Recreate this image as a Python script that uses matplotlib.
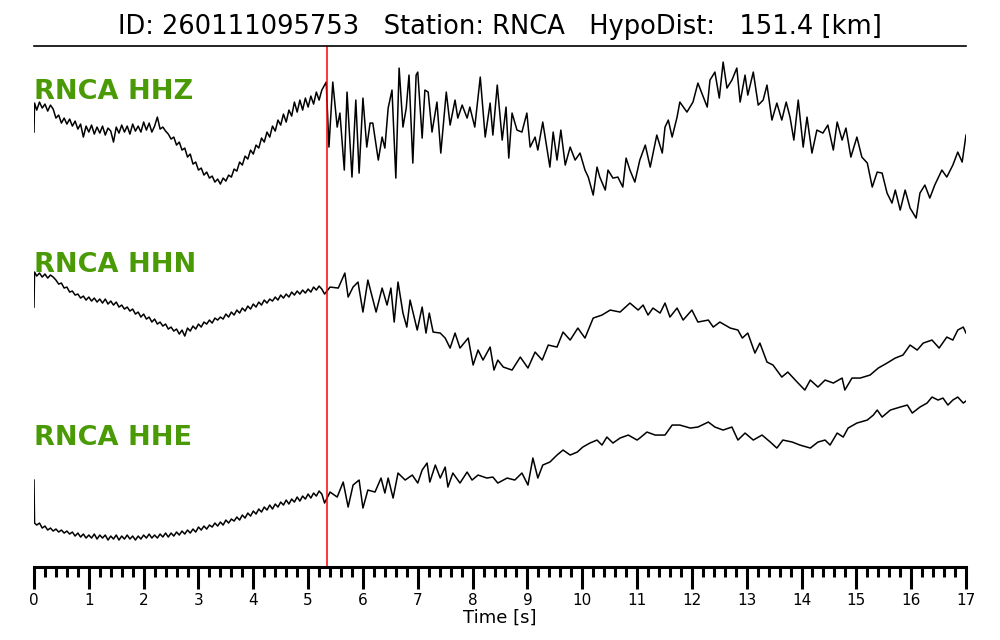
import numpy as np
import matplotlib
matplotlib.use("Agg")
import matplotlib.pyplot as plt
from matplotlib.ticker import MultipleLocator

# event / station info
event_id = "260111095753"
station = "RNCA"
hypo_dist = 151.4
pick_time = 5.35  # P pick [s]
channels = ["HHZ", "HHN", "HHE"]

# noise window before the pick, read every 0.05 s
pre_time = [0.00, 0.01, 0.05, 0.10, 0.15, 0.20, 0.25, 0.30, 0.35, 0.40, 0.45, 0.50, 0.55, 0.60,
            0.65, 0.70, 0.75, 0.80, 0.85, 0.90, 0.95, 1.00, 1.05, 1.10, 1.15, 1.20, 1.25, 1.30,
            1.35, 1.40, 1.45, 1.50, 1.55, 1.60, 1.65, 1.70, 1.75, 1.80, 1.85, 1.90, 1.95, 2.00,
            2.05, 2.10, 2.15, 2.20, 2.25, 2.30, 2.35, 2.40, 2.45, 2.50, 2.55, 2.60, 2.65, 2.70,
            2.75, 2.80, 2.85, 2.90, 2.95, 3.00, 3.05, 3.10, 3.15, 3.20, 3.25, 3.30, 3.35, 3.40,
            3.45, 3.50, 3.55, 3.60, 3.65, 3.70, 3.75, 3.80, 3.85, 3.90, 3.95, 4.00, 4.05, 4.10,
            4.15, 4.20, 4.25, 4.30, 4.35, 4.40, 4.45, 4.50, 4.55, 4.60, 4.65, 4.70, 4.75, 4.80,
            4.85, 4.90, 4.95, 5.00, 5.05, 5.10, 5.15, 5.20, 5.25, 5.30]

hhz_pre = [8, 37, 30, 38, 32, 36, 29, 35, 31, 22, 25, 17, 22, 16,
           21, 14, 19, 11, 16, 3, 14, 8, 15, 6, 13, 7, 14, 5,
           12, 9, -2, 13, 7, 15, 8, 14, 6, 16, 9, 14, 8, 18,
           10, 17, 8, 14, 23, 11, 13, 9, 6, 1, 3, -5, -2, -10,
           -8, -17, -14, -24, -22, -30, -28, -35, -32, -38, -36, -42, -39, -44,
           -38, -41, -35, -37, -29, -31, -22, -25, -16, -19, -10, -14, -5, -8,
           2, -2, 8, 3, 14, 9, 20, 15, 26, 18, 30, 24, 38, 28,
           40, 30, 42, 33, 44, 36, 48, 40, 50, 55]
hhn_pre = [23, 58, 54, 57, 53, 56, 52, 55, 53, 50, 46, 47, 42, 43,
           38, 39, 35, 36, 32, 34, 30, 33, 29, 32, 28, 31, 27, 31,
           26, 29, 25, 28, 23, 25, 21, 23, 19, 21, 16, 18, 13, 16,
           11, 13, 8, 11, 6, 8, 4, 6, 1, 3, -1, 1, -4, 0,
           -6, 2, -1, 4, 1, 6, 3, 8, 6, 10, 7, 12, 10, 13,
           11, 16, 13, 18, 15, 20, 17, 22, 19, 24, 21, 26, 23, 28,
           25, 30, 27, 31, 29, 33, 30, 35, 32, 36, 33, 38, 35, 39,
           36, 40, 37, 41, 38, 43, 40, 44, 41, 36]
hhe_pre = [-10, -53, -55, -53, -58, -56, -60, -58, -61, -59, -62, -60, -63, -61,
           -64, -62, -66, -63, -67, -64, -68, -65, -68, -64, -69, -65, -68, -65,
           -70, -66, -69, -65, -70, -66, -69, -65, -69, -66, -70, -66, -69, -65,
           -68, -64, -68, -65, -68, -64, -67, -63, -67, -63, -66, -62, -65, -61,
           -64, -60, -63, -59, -62, -57, -60, -56, -59, -55, -57, -53, -56, -52,
           -55, -50, -53, -49, -51, -47, -50, -45, -48, -43, -46, -41, -44, -39,
           -42, -37, -40, -35, -39, -34, -37, -32, -35, -30, -34, -29, -32, -27,
           -31, -26, -29, -24, -28, -23, -26, -21, -24, -33]

# signal window after the pick (time [s], amplitude [counts, relative])
hhz_time = [5.33, 5.38, 5.45, 5.53, 5.58, 5.66, 5.71, 5.80, 5.87, 5.93, 6.00, 6.07, 6.13, 6.18,
            6.28, 6.35, 6.40, 6.46, 6.53, 6.60, 6.66, 6.73, 6.79, 6.84, 6.91, 6.97, 7.00, 7.08,
            7.13, 7.19, 7.26, 7.35, 7.42, 7.52, 7.59, 7.68, 7.73, 7.81, 7.90, 7.95, 8.04, 8.14,
            8.23, 8.32, 8.37, 8.45, 8.54, 8.61, 8.66, 8.72, 8.81, 8.90, 8.99, 9.05, 9.14, 9.19,
            9.28, 9.41, 9.47, 9.54, 9.61, 9.69, 9.78, 9.87, 9.96, 10.05, 10.11, 10.20, 10.27,
            10.32, 10.42, 10.47, 10.56, 10.65, 10.74, 10.80, 10.87, 10.96, 11.05, 11.15, 11.24,
            11.36, 11.46, 11.51, 11.57, 11.64, 11.73, 11.78, 11.91, 12.02, 12.11, 12.28, 12.33,
            12.42, 12.50, 12.57, 12.64, 12.73, 12.82, 12.88, 12.97, 13.02, 13.12, 13.21, 13.30,
            13.37, 13.46, 13.55, 13.64, 13.72, 13.79, 13.86, 13.94, 14.03, 14.10, 14.19, 14.28,
            14.39, 14.48, 14.58, 14.65, 14.74, 14.81, 14.90, 15.01, 15.10, 15.20, 15.29, 15.38,
            15.47, 15.56, 15.65, 15.71, 15.80, 15.89, 15.98, 16.09, 16.16, 16.25, 16.34, 16.43,
            16.56, 16.65, 16.76, 16.85, 16.93, 17.00]
hhz_amp = [58, -7, 58, 13, 27, -30, 48, -37, 40, -33, 42, -7, 17, 17,
           -20, 3, -8, 32, 50, -38, 72, 13, 32, 65, -23, 65, 68, 2,
           50, 48, 8, 38, -13, 48, 15, 40, 22, 35, 22, 33, 13, 63,
           3, 37, 5, 55, 0, 33, -18, 27, 10, 8, 27, -7, 3, -10,
           18, -27, 8, -20, 10, -25, -7, -20, -13, -30, -37, -55, -27,
           -37, -50, -30, -38, -37, -47, -18, -30, -42, -20, -5, -27,
           5, -13, 13, 20, 3, 23, 38, 28, 38, 57, 33, 60,
           68, 42, 78, 52, 60, 72, 38, 65, 45, 68, 35, 40,
           55, 20, 37, 20, 38, 23, 0, 40, -7, 23, -13, 10,
           7, 15, -10, 18, 0, 12, -17, 3, -17, -23, -47, -32,
           -33, -53, -63, -50, -70, -50, -68, -78, -53, -45, -58, -45,
           -30, -37, -25, -12, -22, 5]

hhn_time = [5.40, 5.55, 5.67, 5.73, 5.82, 5.91, 6.00, 6.09, 6.24, 6.35, 6.44, 6.51, 6.57, 6.64,
            6.73, 6.80, 6.86, 6.99, 7.08, 7.15, 7.21, 7.28, 7.41, 7.50, 7.59, 7.68, 7.77, 7.92,
            8.01, 8.10, 8.19, 8.32, 8.39, 8.46, 8.56, 8.72, 8.87, 9.01, 9.14, 9.27, 9.38, 9.54,
            9.65, 9.78, 9.92, 10.05, 10.20, 10.36, 10.51, 10.69, 10.87, 11.02, 11.11, 11.20,
            11.29, 11.42, 11.51, 11.60, 11.73, 11.84, 12.00, 12.11, 12.30, 12.39, 12.51, 12.70,
            12.84, 12.92, 13.02, 13.15, 13.24, 13.37, 13.48, 13.64, 13.75, 13.92, 14.06, 14.16,
            14.30, 14.43, 14.58, 14.74, 14.79, 14.92, 15.07, 15.25, 15.40, 15.56, 15.71, 15.85,
            15.98, 16.11, 16.22, 16.38, 16.51, 16.65, 16.76, 16.85, 16.95, 17.00]
hhn_amp = [43, 42, 57, 33, 43, 48, 18, 50, 18, 42, 25, 42, 8, 48,
           17, 3, 30, 0, 23, -3, 17, -2, -3, -8, -18, -3, -18, -8,
           -35, -20, -30, -17, -40, -30, -37, -40, -27, -38, -22, -30, -15, -17,
           -2, -10, 2, -8, 12, 15, 20, 18, 27, 20, 25, 15,
           22, 17, 27, 13, 22, 10, 20, 8, 10, 3, 8, 2,
           0, -8, -3, -23, -13, -32, -35, -47, -42, -52, -60, -50,
           -57, -50, -53, -48, -60, -48, -48, -45, -38, -33, -28, -25,
           -15, -20, -13, -10, -18, -7, -10, 0, 3, -3]

hhe_time = [5.40, 5.53, 5.64, 5.73, 5.82, 5.93, 6.00, 6.09, 6.22, 6.33, 6.40, 6.46, 6.55, 6.64,
            6.77, 6.90, 7.00, 7.08, 7.17, 7.22, 7.32, 7.41, 7.50, 7.55, 7.64, 7.77, 7.90, 7.99,
            8.10, 8.26, 8.37, 8.46, 8.63, 8.77, 8.90, 9.01, 9.10, 9.19, 9.28, 9.41, 9.54, 9.65,
            9.78, 9.91, 10.01, 10.14, 10.27, 10.36, 10.45, 10.56, 10.69, 10.84, 11.00, 11.05,
            11.18, 11.33, 11.51, 11.64, 11.78, 11.97, 12.11, 12.30, 12.42, 12.57, 12.73, 12.84,
            12.97, 13.12, 13.28, 13.43, 13.55, 13.66, 13.83, 13.97, 14.16, 14.30, 14.43, 14.52,
            14.65, 14.76, 14.85, 15.01, 15.20, 15.31, 15.38, 15.47, 15.62, 15.80, 15.93, 16.02,
            16.16, 16.29, 16.38, 16.49, 16.58, 16.67, 16.76, 16.85, 16.95, 17.00]
hhe_amp = [-22, -27, -12, -37, -15, -10, -38, -20, -22, -8, -23, -8, -28, -3,
           -10, -5, -13, 0, 7, -12, 5, -8, 3, -17, -3, -13, -2, -10,
           -5, -8, -7, -13, -8, -10, -3, -15, 12, -8, 5, 8, 15, 20,
           15, 18, 23, 27, 30, 25, 33, 27, 32, 35, 30, 32,
           38, 35, 35, 45, 45, 42, 43, 48, 43, 40, 43, 30,
           37, 30, 35, 28, 22, 30, 28, 25, 22, 28, 30, 25,
           37, 33, 42, 47, 50, 55, 60, 53, 60, 63, 65, 57,
           63, 67, 73, 70, 72, 65, 70, 73, 67, 69]

traces = [
    (pre_time + hhz_time, hhz_pre + hhz_amp),
    (pre_time + hhn_time, hhn_pre + hhn_amp),
    (pre_time + hhe_time, hhe_pre + hhe_amp),
]

# vertical layout of the stacked traces (axis units)
baselines = [427, 237, 97]
label_y = [475, 302, 129]

fig = plt.figure(figsize=(10, 6.4), dpi=100)
ax = fig.add_axes([0.034, 0.114, 0.932, 0.814])

for (t, a), base, ly, ch in zip(traces, baselines, label_y, channels):
    ax.plot(t, np.array(a) + base, color="black", lw=1.1)
    ax.text(0.0, ly, f"{station} {ch}", color="#4a9a06", fontsize=19.5,
            fontweight="bold", va="center", ha="left")

ax.axvline(pick_time, color="red", lw=1.1)

ax.set_xlim(0, 17)
ax.set_ylim(0, 521)
ax.spines["left"].set_visible(False)
ax.spines["right"].set_visible(False)
ax.spines["bottom"].set_linewidth(2.2)
ax.spines["top"].set_linewidth(1.2)
ax.set_yticks([])
ax.xaxis.set_major_locator(MultipleLocator(1))
ax.xaxis.set_minor_locator(MultipleLocator(0.2))
ax.tick_params(axis="x", which="major", length=16, width=2.2, labelsize=11, pad=3)
ax.tick_params(axis="x", which="minor", length=7, width=2.2)
ax.set_xlabel("Time [s]", fontsize=13, labelpad=0)
ax.set_title(f"ID: {event_id}   Station: {station}   HypoDist:   {hypo_dist} [km]",
             fontsize=18.5, pad=9)

fig.savefig("out.png", dpi=100)
